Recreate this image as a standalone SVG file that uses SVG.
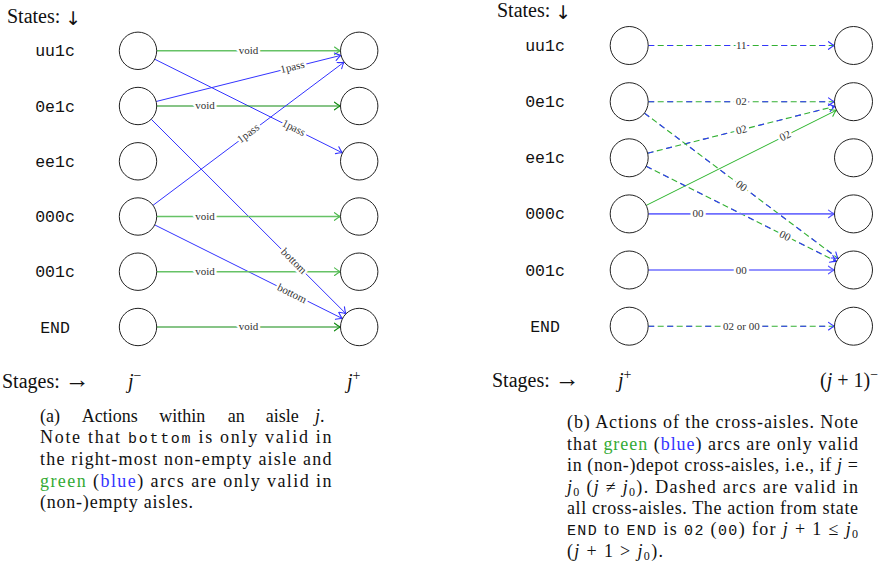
<svg xmlns="http://www.w3.org/2000/svg" width="890" height="566" viewBox="0 0 890 566">
<style>
.nd{fill:#fff;stroke:#222;stroke-width:1}
.st{font-family:"Liberation Mono",monospace;font-size:16.5px;fill:#111;text-anchor:middle}
.hd{font-family:"Liberation Serif",serif;font-size:20px;fill:#111}
.ar{font-family:"DejaVu Sans",sans-serif;font-size:19px;fill:#111}
.ar2{font-size:25px}
.cap{font-family:"Liberation Serif",serif;font-size:18px;fill:#111}
.mono{font-family:"Liberation Mono",monospace;font-size:15px}
.it{font-style:italic}
.lbl{font-family:"Liberation Serif",serif;font-size:11px;fill:#333;stroke:#fff;stroke-width:5;stroke-linejoin:round;paint-order:stroke;text-anchor:middle}
.lg{stroke:#66c266;stroke-width:1.6;fill:none}
.dg{stroke:#108a10;stroke-width:1.1;fill:none}
.b{stroke:#3333ff;stroke-width:1;fill:none}
.lb{stroke:#6f6fff;stroke-width:1.6;fill:none}
.g{stroke:#2db52d;stroke-width:1;fill:none}
.dgr{stroke:#33b033;stroke-width:1.1;stroke-dasharray:6 3.5;fill:none}
.dbl{stroke:#3333ff;stroke-width:1.1;stroke-dasharray:6 13;fill:none}
</style>
<defs>
<marker id="mLG" markerUnits="userSpaceOnUse" markerWidth="10" markerHeight="10" refX="0" refY="0" orient="auto" overflow="visible"><path d="M-6,-3.8 Q-2,-0.6 0,0 Q-2,0.6 -6,3.8" fill="none" stroke="#4cb84c" stroke-width="1.1" stroke-linecap="round"/></marker>
<marker id="mDG" markerUnits="userSpaceOnUse" markerWidth="10" markerHeight="10" refX="0" refY="0" orient="auto" overflow="visible"><path d="M-6,-3.8 Q-2,-0.6 0,0 Q-2,0.6 -6,3.8" fill="none" stroke="#108a10" stroke-width="1.1" stroke-linecap="round"/></marker>
<marker id="mB" markerUnits="userSpaceOnUse" markerWidth="10" markerHeight="10" refX="0" refY="0" orient="auto" overflow="visible"><path d="M-6,-3.8 Q-2,-0.6 0,0 Q-2,0.6 -6,3.8" fill="none" stroke="#3333ff" stroke-width="1.1" stroke-linecap="round"/></marker>
<marker id="mLB" markerUnits="userSpaceOnUse" markerWidth="10" markerHeight="10" refX="0" refY="0" orient="auto" overflow="visible"><path d="M-6,-3.8 Q-2,-0.6 0,0 Q-2,0.6 -6,3.8" fill="none" stroke="#5555ff" stroke-width="1.1" stroke-linecap="round"/></marker>
<marker id="mG" markerUnits="userSpaceOnUse" markerWidth="10" markerHeight="10" refX="0" refY="0" orient="auto" overflow="visible"><path d="M-6,-3.8 Q-2,-0.6 0,0 Q-2,0.6 -6,3.8" fill="none" stroke="#2db52d" stroke-width="1.1" stroke-linecap="round"/></marker>
</defs>

<!-- headers -->
<text class="hd" x="7" y="23">States: <tspan class="ar" dy="2">↓</tspan></text>
<text class="hd" x="497" y="16.7">States: <tspan class="ar" dy="2">↓</tspan></text>

<g id="row-labels-a">
<text class="st" x="55" y="56.3">uu1c</text>
<text class="st" x="55" y="111.5">0e1c</text>
<text class="st" x="55" y="166.8">ee1c</text>
<text class="st" x="55" y="222">000c</text>
<text class="st" x="55" y="277.2">001c</text>
<text class="st" x="55" y="332.5">END</text>
</g>
<g id="row-labels-b">
<text class="st" x="545" y="51">uu1c</text>
<text class="st" x="545" y="107.2">0e1c</text>
<text class="st" x="545" y="163.3">ee1c</text>
<text class="st" x="545" y="219.4">000c</text>
<text class="st" x="545" y="275.5">001c</text>
<text class="st" x="545" y="331.7">END</text>
</g>

<g id="connectors">
<!-- (a) -->
<line class="lg" x1="156.7" y1="50.8" x2="340.5" y2="50.8" marker-end="url(#mLG)"/>
<line class="b" x1="154.7" y1="59.2" x2="342.5" y2="152.9" marker-end="url(#mB)"/>
<line class="b" x1="156.1" y1="101.5" x2="341.1" y2="55.3" marker-end="url(#mB)"/>
<line class="dg" x1="156.7" y1="106" x2="340.5" y2="106" marker-end="url(#mDG)"/>
<line class="b" x1="153" y1="205.3" x2="344.2" y2="62" marker-end="url(#mB)"/>
<line class="b" x1="151.2" y1="119.2" x2="346" y2="313.8" marker-end="url(#mB)"/>
<line class="lg" x1="156.7" y1="216.5" x2="340.5" y2="216.5" marker-end="url(#mLG)"/>
<line class="b" x1="154.7" y1="224.9" x2="342.5" y2="318.6" marker-end="url(#mB)"/>
<line class="lg" x1="156.7" y1="271.7" x2="340.5" y2="271.7" marker-end="url(#mLG)"/>
<line class="dg" x1="156.7" y1="327" x2="340.5" y2="327" marker-end="url(#mDG)"/>

<text class="lbl" transform="translate(248.6 50.8)" y="3">void</text>
<text class="lbl" transform="translate(293.5 128.2) rotate(26.5)" y="3">1pass</text>
<text class="lbl" transform="translate(292.5 67.5) rotate(-14)" y="3">1pass</text>
<text class="lbl" transform="translate(205 106)" y="3">void</text>
<text class="lbl" transform="translate(248.6 133.7) rotate(-36.8)" y="3">1pass</text>
<text class="lbl" transform="translate(293.5 261.5) rotate(45)" y="3">bottom</text>
<text class="lbl" transform="translate(291.8 294) rotate(26.5)" y="3">bottom</text>
<text class="lbl" transform="translate(205 216.5)" y="3">void</text>
<text class="lbl" transform="translate(205 271.7)" y="3">void</text>
<text class="lbl" transform="translate(248.6 327)" y="3">void</text>

<!-- (b) -->
<line class="dgr" x1="648.2" y1="45.5" x2="834.5" y2="45.5"/>
<line class="dbl" x1="648.2" y1="45.5" x2="834.5" y2="45.5" marker-end="url(#mB)"/>
<line class="dgr" x1="648.2" y1="101.7" x2="834.5" y2="101.7"/>
<line class="dbl" x1="648.2" y1="101.7" x2="834.5" y2="101.7" marker-end="url(#mB)"/>
<line class="dgr" x1="647.6" y1="153.2" x2="835.1" y2="106.3"/>
<line class="dbl" x1="647.6" y1="153.2" x2="835.1" y2="106.3" marker-end="url(#mB)"/>
<line class="g" x1="646.2" y1="205.4" x2="836.5" y2="110.2" marker-end="url(#mG)"/>
<line class="dgr" x1="644.4" y1="113.1" x2="838.3" y2="258.6"/>
<line class="dbl" x1="644.4" y1="113.1" x2="838.3" y2="258.6" marker-end="url(#mB)"/>
<line class="dgr" x1="646.2" y1="166.3" x2="836.5" y2="261.5"/>
<line class="dbl" x1="646.2" y1="166.3" x2="836.5" y2="261.5" marker-end="url(#mB)"/>
<line class="lb" x1="648.2" y1="213.9" x2="834.5" y2="213.9" marker-end="url(#mLB)"/>
<line class="lb" x1="648.2" y1="270" x2="834.5" y2="270" marker-end="url(#mLB)"/>
<line class="dgr" x1="648.2" y1="326.2" x2="834.5" y2="326.2"/>
<line class="dbl" x1="648.2" y1="326.2" x2="834.5" y2="326.2" marker-end="url(#mB)"/>

<text class="lbl" transform="translate(741.3 45.5)" y="3.5">11</text>
<text class="lbl" transform="translate(741.3 101.7)" y="3.5">02</text>
<text class="lbl" transform="translate(741.4 129.8) rotate(-14)" y="3.5">02</text>
<text class="lbl" transform="translate(785.1 135.9) rotate(-26.6)" y="3.5">02</text>
<text class="lbl" transform="translate(741.4 185.9) rotate(36.9)" y="3.5">00</text>
<text class="lbl" transform="translate(785.1 235.8) rotate(26.6)" y="3.5">00</text>
<text class="lbl" transform="translate(698 213.9)" y="3.5">00</text>
<text class="lbl" transform="translate(741.3 270)" y="3.5">00</text>
<text class="lbl" transform="translate(741.3 326.2)" y="3.5">02 or 00</text>
</g>

<!-- nodes (a) -->
<g id="a-jminus-uu1c"><circle class="nd" cx="138" cy="50.8" r="18.7"/></g>
<g id="a-jminus-0e1c"><circle class="nd" cx="138" cy="106" r="18.7"/></g>
<g id="a-jminus-ee1c"><circle class="nd" cx="138" cy="161.3" r="18.7"/></g>
<g id="a-jminus-000c"><circle class="nd" cx="138" cy="216.5" r="18.7"/></g>
<g id="a-jminus-001c"><circle class="nd" cx="138" cy="271.7" r="18.7"/></g>
<g id="a-jminus-END"><circle class="nd" cx="138" cy="327" r="18.7"/></g>
<g id="a-jplus-uu1c"><circle class="nd" cx="359.2" cy="50.8" r="18.7"/></g>
<g id="a-jplus-0e1c"><circle class="nd" cx="359.2" cy="106" r="18.7"/></g>
<g id="a-jplus-ee1c"><circle class="nd" cx="359.2" cy="161.3" r="18.7"/></g>
<g id="a-jplus-000c"><circle class="nd" cx="359.2" cy="216.5" r="18.7"/></g>
<g id="a-jplus-001c"><circle class="nd" cx="359.2" cy="271.7" r="18.7"/></g>
<g id="a-jplus-END"><circle class="nd" cx="359.2" cy="327" r="18.7"/></g>

<!-- nodes (b) -->
<g id="b-jplus-uu1c"><circle class="nd" cx="629.2" cy="45.5" r="19"/></g>
<g id="b-jplus-0e1c"><circle class="nd" cx="629.2" cy="101.7" r="19"/></g>
<g id="b-jplus-ee1c"><circle class="nd" cx="629.2" cy="157.8" r="19"/></g>
<g id="b-jplus-000c"><circle class="nd" cx="629.2" cy="213.9" r="19"/></g>
<g id="b-jplus-001c"><circle class="nd" cx="629.2" cy="270" r="19"/></g>
<g id="b-jplus-END"><circle class="nd" cx="629.2" cy="326.2" r="19"/></g>
<g id="b-j1minus-uu1c"><circle class="nd" cx="853.5" cy="45.5" r="19"/></g>
<g id="b-j1minus-0e1c"><circle class="nd" cx="853.5" cy="101.7" r="19"/></g>
<g id="b-j1minus-ee1c"><circle class="nd" cx="853.5" cy="157.8" r="19"/></g>
<g id="b-j1minus-000c"><circle class="nd" cx="853.5" cy="213.9" r="19"/></g>
<g id="b-j1minus-001c"><circle class="nd" cx="853.5" cy="270" r="19"/></g>
<g id="b-j1minus-END"><circle class="nd" cx="853.5" cy="326.2" r="19"/></g>

<!-- stages -->
<text class="hd" x="2" y="388">Stages: <tspan class="ar2">→</tspan></text>
<text class="hd" x="128" y="388"><tspan class="it">j</tspan><tspan font-size="14" dy="-8">−</tspan></text>
<text class="hd" x="347" y="388"><tspan class="it">j</tspan><tspan font-size="14" dy="-8">+</tspan></text>
<text class="hd" x="492" y="386.7">Stages: <tspan class="ar2">→</tspan></text>
<text class="hd" x="618" y="386.7"><tspan class="it">j</tspan><tspan font-size="14" dy="-8">+</tspan></text>
<text class="hd" x="820" y="386.7">(<tspan class="it">j</tspan> + 1)<tspan font-size="14" dy="-8">−</tspan></text>

<!-- caption (a) -->
<g id="caption-a" class="cap">
<text x="40" y="421.5">(a)</text>
<text x="81.7" y="421.5">Actions</text>
<text x="159.3" y="421.5">within</text>
<text x="227.7" y="421.5">an</text>
<text x="265.7" y="421.5">aisle</text>
<text x="315" y="421.5"><tspan class="it">j</tspan>.</text>
<text x="40" y="443.2" textLength="291.5" lengthAdjust="spacing">Note that <tspan class="mono">bottom</tspan> is only valid in</text>
<text x="40" y="464.9" textLength="291.5" lengthAdjust="spacing">the right-most non-empty aisle and</text>
<text x="40" y="486.6" textLength="291.5" lengthAdjust="spacing"><tspan fill="#33aa33">green</tspan> (<tspan fill="#3333ff">blue</tspan>) arcs are only valid in</text>
<text x="40" y="508.3" textLength="153" lengthAdjust="spacing">(non-)empty aisles.</text>
</g>

<!-- caption (b) -->
<g id="caption-b" class="cap">
<text x="567" y="428.3" textLength="291" lengthAdjust="spacing">(b) Actions of the cross-aisles. Note</text>
<text x="567" y="449.7" textLength="291" lengthAdjust="spacing">that <tspan fill="#33aa33">green</tspan> (<tspan fill="#3333ff">blue</tspan>) arcs are only valid</text>
<text x="567" y="471.1" textLength="291" lengthAdjust="spacing">in (non-)depot cross-aisles, i.e., if <tspan class="it">j</tspan> =</text>
<text x="567" y="492.5" textLength="291" lengthAdjust="spacing"><tspan class="it">j</tspan><tspan font-size="12" dy="3">0</tspan><tspan dy="-3"> (</tspan><tspan class="it">j</tspan> ≠ <tspan class="it">j</tspan><tspan font-size="12" dy="3">0</tspan><tspan dy="-3">). Dashed arcs are valid in</tspan></text>
<text x="567" y="513.9" textLength="291" lengthAdjust="spacing">all cross-aisles. The action from state</text>
<text x="567" y="535.3" textLength="291" lengthAdjust="spacing"><tspan class="mono">END</tspan> to <tspan class="mono">END</tspan> is <tspan class="mono">02</tspan> (<tspan class="mono">00</tspan>) for <tspan class="it">j</tspan> + 1 ≤ <tspan class="it">j</tspan><tspan font-size="12" dy="3">0</tspan></text>
<text x="567" y="556.7" textLength="96" lengthAdjust="spacing">(<tspan class="it">j</tspan> + 1 &gt; <tspan class="it">j</tspan><tspan font-size="12" dy="3">0</tspan><tspan dy="-3">).</tspan></text>
</g>
</svg>
